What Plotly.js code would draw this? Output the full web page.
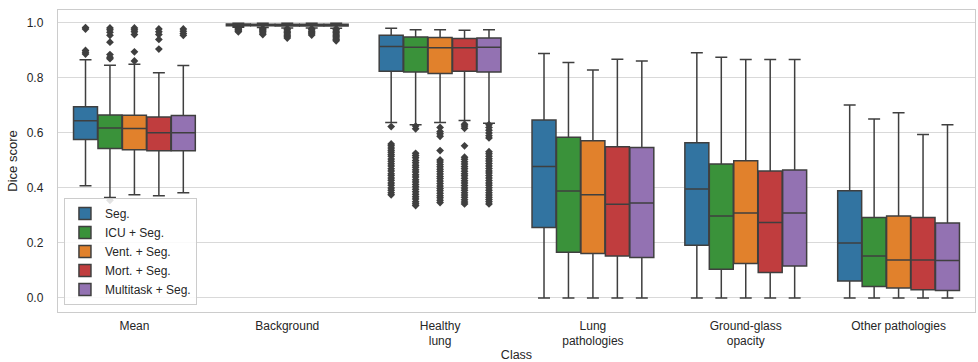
<!DOCTYPE html>
<html>
<head>
<meta charset="utf-8">
<script src="https://cdn.plot.ly/plotly-3.0.1.min.js"></script>
<style>html,body{margin:0;padding:0;background:#fff;}#chart{width:978px;height:362px;}</style>
</head>
<body>
<div id="chart"></div>
<script>
const categories = ['Mean', 'Background', 'Healthy<br>lung', 'Lung<br>pathologies', 'Ground-glass<br>opacity', 'Other pathologies'];
const models = ['Seg.', 'ICU + Seg.', 'Vent. + Seg.', 'Mort. + Seg.', 'Multitask + Seg.'];
const colors = ['#3274a1', '#3a923a', '#e1812c', '#c03d3e', '#9372b2'];

// per model: values per category
const q1 = [
  [0.576, 0.990, 0.824, 0.256, 0.192, 0.062],
  [0.543, 0.990, 0.822, 0.166, 0.104, 0.042],
  [0.539, 0.989, 0.816, 0.162, 0.125, 0.036],
  [0.535, 0.989, 0.824, 0.153, 0.093, 0.030],
  [0.535, 0.989, 0.822, 0.147, 0.116, 0.027]
];
const medians = [
  [0.644, 0.993, 0.914, 0.478, 0.396, 0.200],
  [0.618, 0.993, 0.912, 0.389, 0.298, 0.153],
  [0.616, 0.992, 0.910, 0.375, 0.309, 0.138],
  [0.601, 0.992, 0.910, 0.341, 0.274, 0.138],
  [0.601, 0.992, 0.912, 0.345, 0.309, 0.136]
];
const q3 = [
  [0.695, 0.996, 0.955, 0.647, 0.564, 0.390],
  [0.665, 0.995, 0.949, 0.584, 0.487, 0.293],
  [0.664, 0.995, 0.947, 0.572, 0.499, 0.298],
  [0.658, 0.995, 0.943, 0.550, 0.462, 0.293],
  [0.663, 0.995, 0.945, 0.547, 0.465, 0.273]
];
const lowerWhisker = [
  [0.408, 0.984, 0.638, 0.0, 0.0, 0.0],
  [0.365, 0.983, 0.630, 0.0, 0.0, 0.0],
  [0.375, 0.982, 0.638, 0.0, 0.0, 0.0],
  [0.372, 0.982, 0.645, 0.0, 0.0, 0.0],
  [0.383, 0.981, 0.635, 0.0, 0.0, 0.0]
];
const upperWhisker = [
  [0.866, 0.999, 0.981, 0.889, 0.892, 0.702],
  [0.846, 0.999, 0.975, 0.856, 0.875, 0.651],
  [0.850, 0.999, 0.975, 0.829, 0.867, 0.673],
  [0.819, 0.999, 0.973, 0.868, 0.867, 0.594],
  [0.845, 0.999, 0.975, 0.862, 0.867, 0.630]
];

// outliers (per model) for Mean, Background, Healthy lung
const outliersMean = [
  [0.983, 0.978, 0.900, 0.893, 0.887],
  [0.982, 0.975, 0.966, 0.955, 0.930, 0.885, 0.875, 0.870, 0.355],
  [0.982, 0.975, 0.968, 0.958, 0.895, 0.862],
  [0.978, 0.968, 0.958, 0.940, 0.905],
  [0.978, 0.970, 0.962, 0.955]
];
const outliersBackground = [
  [0.980, 0.977, 0.974, 0.971, 0.968],
  [0.980, 0.976, 0.972, 0.968, 0.963, 0.958],
  [0.979, 0.975, 0.970, 0.965, 0.960, 0.955, 0.950, 0.945],
  [0.979, 0.975, 0.970, 0.966, 0.961, 0.956],
  [0.979, 0.975, 0.970, 0.965, 0.960, 0.955, 0.950, 0.945, 0.940, 0.935]
];
const outliersHealthy = [
  [0.623, 0.560, 0.553, 0.545, 0.537, 0.530, 0.522, 0.515, 0.505, 0.497, 0.488, 0.480, 0.470, 0.462, 0.452, 0.445, 0.436, 0.428, 0.418, 0.410, 0.400, 0.392, 0.383, 0.375],
  [0.625, 0.615, 0.526, 0.518, 0.510, 0.500, 0.492, 0.483, 0.475, 0.466, 0.458, 0.448, 0.440, 0.430, 0.422, 0.413, 0.404, 0.395, 0.386, 0.377, 0.368, 0.360, 0.350, 0.343, 0.336],
  [0.620, 0.605, 0.597, 0.588, 0.536, 0.502, 0.494, 0.485, 0.477, 0.468, 0.460, 0.451, 0.442, 0.434, 0.425, 0.416, 0.407, 0.398, 0.390, 0.381, 0.372, 0.364, 0.355, 0.347],
  [0.632, 0.625, 0.617, 0.553, 0.512, 0.504, 0.495, 0.487, 0.478, 0.470, 0.461, 0.452, 0.444, 0.435, 0.426, 0.418, 0.409, 0.400, 0.392, 0.383, 0.374, 0.366, 0.357, 0.349, 0.342],
  [0.630, 0.620, 0.610, 0.600, 0.590, 0.582, 0.532, 0.524, 0.515, 0.506, 0.498, 0.489, 0.480, 0.471, 0.462, 0.454, 0.445, 0.436, 0.427, 0.418, 0.410, 0.401, 0.392, 0.383, 0.374, 0.366, 0.358, 0.350, 0.342]
];

const yTicks = [0.0, 0.2, 0.4, 0.6, 0.8, 1.0];
const yTickText = ['0.0', '0.2', '0.4', '0.6', '0.8', '1.0'];

const edge = '#3f3f3f';
const traces = [];
models.forEach((m, i) => {
  traces.push({
    type: 'box', name: m, x: categories,
    q1: q1[i], median: medians[i], q3: q3[i],
    lowerfence: lowerWhisker[i], upperfence: upperWhisker[i],
    fillcolor: colors[i], line: {color: edge, width: 1.5},
    whiskerwidth: 0.5, boxpoints: false, hoverinfo: 'skip',
    offsetgroup: 'b' + i
  });
});
models.forEach((m, i) => {
  const xs = [], ys = [];
  outliersMean[i].forEach(v => { xs.push(categories[0]); ys.push(v); });
  outliersBackground[i].forEach(v => { xs.push(categories[1]); ys.push(v); });
  outliersHealthy[i].forEach(v => { xs.push(categories[2]); ys.push(v); });
  traces.push({
    type: 'scatter', mode: 'markers', x: xs, y: ys, showlegend: false,
    marker: {symbol: 'diamond', size: 6, color: edge},
    offsetgroup: 's' + i, alignmentgroup: 'out', hoverinfo: 'skip'
  });
});

const font = {family: 'Liberation Sans, Arial, sans-serif', color: '#262626', size: 12};
const layout = {
  width: 978, height: 362,
  margin: {l: 58, r: 3, t: 10, b: 50},
  paper_bgcolor: '#ffffff', plot_bgcolor: '#ffffff',
  font: font,
  boxmode: 'group', boxgap: 0.2, boxgroupgap: 0.02,
  scattermode: 'group', scattergap: 0.2,
  xaxis: {
    type: 'category', categoryorder: 'array', categoryarray: categories,
    showgrid: false, zeroline: false,
    showline: true, mirror: true, linecolor: '#cccccc', linewidth: 1.25,
    ticks: '', ticklabelstandoff: 2,
    tickfont: {size: 12},
    title: {text: 'Class', font: {size: 12.5}, standoff: 5}
  },
  yaxis: {
    range: [-0.051, 1.047], tickvals: yTicks, ticktext: yTickText,
    showgrid: true, gridcolor: '#d9d9d9', gridwidth: 1, zeroline: false,
    showline: true, mirror: true, linecolor: '#cccccc', linewidth: 1.25,
    ticks: '', ticklabelstandoff: 11,
    tickfont: {size: 12},
    title: {text: 'Dice score', font: {size: 13}, standoff: 6}
  },
  legend: {
    x: 0.0065, y: 0.023, xanchor: 'left', yanchor: 'bottom',
    bgcolor: 'rgba(255,255,255,0.85)', bordercolor: '#cccccc', borderwidth: 1,
    font: {size: 12}, tracegroupgap: 0, itemwidth: 30
  },
  showlegend: true
};

Plotly.newPlot('chart', traces, layout, {displayModeBar: false, staticPlot: true});
</script>
</body>
</html>
